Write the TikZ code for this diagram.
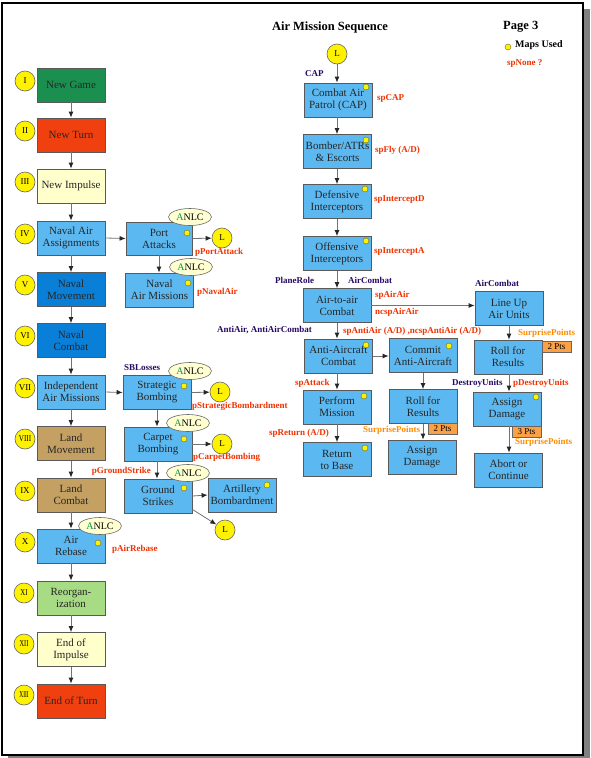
\documentclass[tikz,border=0pt]{standalone}
\usepackage{graphicx}
\usepackage{fontspec}
\setmainfont{Liberation Serif}
\usetikzlibrary{arrows.meta,shapes.geometric}
\definecolor{gamegreen}{RGB}{27,143,79}
\definecolor{turnred}{RGB}{240,64,16}
\definecolor{paleyel}{RGB}{255,255,204}
\definecolor{lblue}{RGB}{92,184,240}
\definecolor{dblue}{RGB}{10,127,216}
\definecolor{tan}{RGB}{196,160,98}
\definecolor{lgreen}{RGB}{168,220,132}
\definecolor{redc}{RGB}{240,50,0}
\definecolor{purc}{RGB}{40,10,100}
\definecolor{orgc}{RGB}{255,140,0}
\definecolor{ptsc}{RGB}{250,160,70}
\definecolor{anlcA}{RGB}{0,150,60}
\definecolor{cream}{RGB}{255,255,210}
\begin{document}
\begin{tikzpicture}[x=1pt,y=-1pt,
  box/.style={rectangle, draw=black!65, line width=0.8pt, minimum width=68pt, minimum height=34pt, inner sep=1pt, align=center, font=\fontsize{11}{12}\selectfont, text=black!85},
  lb/.style={box, fill=lblue},
  roman/.style={circle, draw=black!60, line width=0.6pt, fill=yellow, minimum size=20pt, inner sep=0pt, font=\fontsize{9}{9}\selectfont},
  anlc/.style={ellipse, draw=black!60, line width=0.6pt, fill=cream, minimum width=43pt, minimum height=17pt, inner sep=0pt, font=\fontsize{10}{10}\selectfont},
  mdot/.style={circle, draw=olive!70!black, line width=0.4pt, fill=yellow, minimum size=6pt, inner sep=0pt},
  redlbl/.style={font=\fontsize{9}{10}\selectfont\bfseries, text=redc, inner sep=0pt, anchor=west},
  purlbl/.style={font=\fontsize{9}{10}\selectfont\bfseries, text=purc, inner sep=0pt, anchor=west},
  orglbl/.style={font=\fontsize{9}{10}\selectfont\bfseries, text=orgc, inner sep=0pt, anchor=west},
  pts/.style={rectangle, draw=black!60, line width=0.6pt, fill=ptsc, minimum width=29pt, minimum height=11pt, inner sep=0pt, font=\fontsize{9}{9}\selectfont},
  arr/.style={draw=black!55, line width=0.8pt, -{Latex[length=6pt,width=5pt,color=black!85]}}
]
\useasboundingbox (0,0) rectangle (590,758);
\fill[black!50] (8,9) rectangle (590,758);
\draw[line width=2pt, fill=white] (2,3) rectangle (583,755);

% title
\node[font=\fontsize{12.5}{13}\selectfont\bfseries] (title) at (330,27) {Air Mission Sequence};
\node[font=\fontsize{12.5}{13}\selectfont\bfseries, anchor=west, inner sep=0pt] (page) at (503,27) {Page 3};
\node[mdot] (legdot) at (508,47) {};
\node[font=\fontsize{10}{10}\selectfont\bfseries, anchor=west, inner sep=0pt] (maps) at (515,45) {Maps Used};
\node[redlbl] (spnone) at (507,63) {spNone ?};

% left column
\node[box, fill=gamegreen] (n1) at (71,85) {New Game};
\node[box, fill=turnred] (n2) at (71,135) {New Turn};
\node[box, fill=paleyel] (n3) at (71,186) {New Impulse};
\node[lb] (n4) at (71,238) {Naval Air\\Assignments};
\node[box, fill=dblue] (n5) at (71,289.5) {Naval\\Movement};
\node[box, fill=dblue] (n6) at (71,340.5) {Naval\\Combat};
\node[lb] (n7) at (71,392) {Independent\\Air Missions};
\node[box, fill=tan] (n8) at (71,443.5) {Land\\Movement};
\node[box, fill=tan] (n9) at (71,495) {Land\\Combat};
\node[lb] (n10) at (71,546) {Air\\Rebase};
\node[box, fill=lgreen] (n11) at (71,598) {Reorgan-\\ization};
\node[box, fill=paleyel] (n12) at (71,649.5) {End of\\Impulse};
\node[box, fill=turnred] (n13) at (71,701) {End of Turn};

\node[roman] (c1) at (25,81) {I};
\node[roman] (c2) at (25,131) {II};
\node[roman] (c3) at (25,182) {III};
\node[roman] (c4) at (25,234) {IV};
\node[roman] (c5) at (25,285) {V};
\node[roman] (c6) at (25,336) {VI};
\node[roman] (c7) at (25,388) {VII};
\node[roman] (c8) at (25,439) {\scalebox{0.8}[1]{VIII}};
\node[roman] (c9) at (25,491) {IX};
\node[roman] (c10) at (25,542) {X};
\node[roman] (c11) at (24,593) {\scalebox{0.75}[1]{XI}};
\node[roman] (c12) at (24,644) {\scalebox{0.7}[1]{XII}};
\node[roman] (c13) at (24,695) {\scalebox{0.6}[1]{XIII}};

\foreach \a/\b in {n1/n2,n2/n3,n3/n4,n4/n5,n5/n6,n6/n7,n7/n8,n8/n9,n9/n10,n10/n11,n11/n12,n12/n13}
  \draw[arr] (\a) -- (\b);

% middle column
\node[lb, minimum width=66pt, minimum height=33pt] (pa) at (159,238.5) {Port\\Attacks};
\node[lb] (nam) at (159.5,290) {Naval\\Air Missions};
\node[lb] (sb) at (157,392.5) {Strategic\\Bombing};
\node[lb] (cb) at (158,444) {Carpet\\Bombing};
\node[lb] (gs) at (158,496) {Ground\\Strikes};
\node[lb] (ab) at (242,495) {Artillery\\Bombardment};

\node[roman] (l1) at (222,238) {L};
\node[roman] (l2) at (220,392) {L};
\node[roman] (l3) at (222,444) {L};
\node[roman] (l4) at (225,530) {L};

\draw[arr] (n4.east) -- (pa.west);
\draw[arr] (pa.south) -- (pa.south |- nam.north);
\draw[arr] (pa.east) -- (l1);
\draw[arr] (n7.east) -- (sb.west);
\draw[arr] (sb.south) -- (sb.south |- cb.north);
\draw[arr] (sb.east) -- (l2);
\draw[arr] (cb.east) -- (l3);
\draw[arr] (sb.south |- cb.south) -- (sb.south |- gs.north);
\draw[arr] (gs.east) -- (ab.west);
\coordinate (gsdiag) at ([yshift=4pt]gs.south east);
\draw[arr] (gsdiag) -- (l4);

\node[mdot] (dpa) at (187,233) {};
\node[mdot] (dnam) at (188,283) {};
\node[mdot] (dsb) at (184,386) {};
\node[mdot] (dcb) at (184,439) {};
\node[mdot] (dgs) at (184,488) {};
\node[mdot] (dab) at (267,485) {};
\node[mdot] (dar) at (98,543) {};

\node[anlc] (e1) at (190,217) {\textcolor{anlcA}{A}NLC};
\node[anlc] (e2) at (191,267) {\textcolor{anlcA}{A}NLC};
\node[anlc] (e3) at (190,371) {\textcolor{anlcA}{A}NLC};
\node[anlc] (e4) at (188,423) {\textcolor{anlcA}{A}NLC};
\node[anlc] (e5) at (188,473) {\textcolor{anlcA}{A}NLC};
\node[anlc] (e6) at (100,526) {\textcolor{anlcA}{A}NLC};

\node[redlbl] (t1) at (195,252) {pPortAttack};
\node[redlbl] (t2) at (197,292) {pNavalAir};
\node[purlbl] (t3) at (124,368) {SBLosses};
\node[redlbl] (t4) at (192,406) {pStrategicBombardment};
\node[redlbl] (t5) at (193,457) {pCarpetBombing};
\node[redlbl, anchor=east] (t6) at (151,471) {pGroundStrike};
\node[redlbl] (t7) at (112,549) {pAirRebase};

% right part
\node[roman] (l0) at (337,54) {L};
\node[lb] (cap) at (338,100) {Combat Air\\Patrol (CAP)};
\node[lb] (bom) at (337.5,151.5) {Bomber/ATRs\\\& Escorts};
\node[lb] (def) at (337,201.5) {Defensive\\Interceptors};
\node[lb] (off) at (337,253.5) {Offensive\\Interceptors};
\node[lb] (air) at (337,305.5) {Air-to-air\\Combat};
\node[lb] (aac) at (338.5,356) {Anti-Aircraft\\Combat};
\node[lb] (pm) at (337,407) {Perform\\Mission};
\node[lb] (rtb) at (337,459.5) {Return\\to Base};
\node[lb] (com) at (423,355.5) {Commit\\Anti-Aircraft};
\node[lb] (rr2) at (423,406.5) {Roll for\\Results};
\node[lb] (ad2) at (422,457) {Assign\\Damage};
\node[lb] (lu) at (509,308.5) {Line Up\\Air Units};
\node[lb] (rr3) at (508,357) {Roll for\\Results};
\node[lb] (ad3) at (507,409) {Assign\\Damage};
\node[lb] (ac) at (508.5,470) {Abort or\\Continue};

\draw[arr] (l0) -- (l0 |- cap.north);
\draw[arr] (l0 |- cap.south) -- (l0 |- bom.north);
\draw[arr] (l0 |- bom.south) -- (l0 |- def.north);
\draw[arr] (l0 |- def.south) -- (l0 |- off.north);
\draw[arr] (l0 |- off.south) -- (l0 |- air.north);
\draw[arr] (l0 |- air.south) -- (l0 |- aac.north);
\draw[arr] (l0 |- aac.south) -- (l0 |- pm.north);
\draw[arr] (l0 |- pm.south) -- (l0 |- rtb.north);
\draw[arr] (air.east) -- (air.east -| lu.west);
\draw[arr] (aac.east) -- (aac.east -| com.west);
\draw[arr] (com.south) -- (com.south |- rr2.north);
\draw[arr] (com.south |- rr2.south) -- (com.south |- ad2.north);
\draw[arr] (lu.south) -- (lu.south |- rr3.north);
\draw[arr] (lu.south |- rr3.south) -- (lu.south |- ad3.north);
\draw[arr] (lu.south |- ad3.south) -- (lu.south |- ac.north);

\node[mdot] (dcap) at (366,87) {};
\node[mdot] (dbom) at (366,140) {};
\node[mdot] (ddef) at (365,189) {};
\node[mdot] (doff) at (366,241) {};
\node[mdot] (daac) at (366,345) {};
\node[mdot] (dcom) at (449,346) {};
\node[mdot] (dpm) at (364,396) {};
\node[mdot] (drtb) at (365,448) {};
\node[mdot] (dad3) at (536,397) {};

\node[pts] (p1) at (556.5,346.5) {2 Pts};
\node[pts] (p2) at (442.5,429) {2 Pts};
\node[pts] (p3) at (526.5,431.5) {3 Pts};

\node[purlbl] (u1) at (305,74) {CAP};
\node[redlbl] (u2) at (377,98) {spCAP};
\node[redlbl] (u3) at (375,150) {spFly (A/D)};
\node[redlbl] (u4) at (374,200) {spInterceptD};
\node[redlbl] (u5) at (374,251) {spInterceptA};
\node[purlbl] (u6) at (275,280) {PlaneRole};
\node[purlbl] (u7) at (348,280) {AirCombat};
\node[purlbl] (u8) at (475,283) {AirCombat};
\node[redlbl] (u9) at (375,295) {spAirAir};
\node[redlbl] (u10) at (375,312) {ncspAirAir};
\node[purlbl] (u11) at (217,330) {AntiAir, AntiAirCombat};
\node[redlbl] (u12) at (343,331) {spAntiAir (A/D) ,ncspAntiAir (A/D)};
\node[orglbl] (u13) at (518,333) {SurprisePoints};
\node[redlbl] (u14) at (295,383) {spAttack};
\node[redlbl] (u15) at (269,433) {spReturn (A/D)};
\node[orglbl] (u16) at (363,430) {SurprisePoints};
\node[purlbl] (u17) at (452,383) {DestroyUnits};
\node[redlbl] (u18) at (513,383) {pDestroyUnits};
\node[orglbl] (u19) at (515,442) {SurprisePoints};
\end{tikzpicture}
\end{document}
